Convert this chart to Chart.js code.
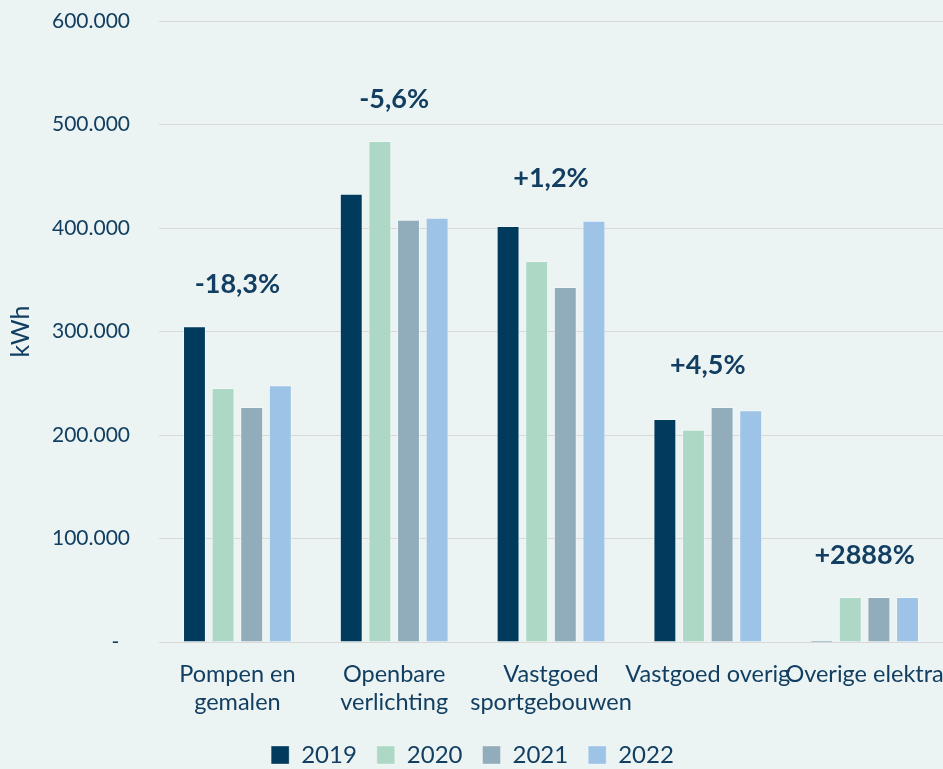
<!DOCTYPE html>
<html>
<head>
<meta charset="utf-8">
<script src="https://cdn.jsdelivr.net/npm/chart.js@4/dist/chart.umd.min.js"></script>
<style>
  html, body { margin: 0; padding: 0; background: #ebf3f3; overflow: hidden; }
  #wrap { width: 943px; height: 769px; }
</style>
</head>
<body>
<div id="wrap"><canvas id="chart"></canvas></div>
<script>
"use strict"

// data
const categories = [
  ["Pompen en", "gemalen"],
  ["Openbare", "verlichting"],
  ["Vastgoed", "sportgebouwen"],
  "Vastgoed overig",
  "Overige elektra",
]
const years = ["2019", "2020", "2021", "2022"]
const values2019 = [305000, 433000, 402000, 215500, 1460]
const values2020 = [245500, 484000, 368000, 205000, 43500]
const values2021 = [227000, 408000, 343000, 227000, 43500]
const values2022 = [248000, 410000, 407000, 224000, 43500]
const changeLabels = ["-18,3%", "-5,6%", "+1,2%", "+4,5%", "+2888%"]
const yTicks = [0, 100000, 200000, 300000, 400000, 500000, 600000]

const colors = ["#003a5c", "#aed8c6", "#91adbb", "#9dc3e6"]
const textColor = "#123f61"
const fontFamily = "Lato, 'Open Sans', sans-serif"

const canvas = document.getElementById("chart")

// background fill
const background = {
  id: "background",
  beforeDraw(chart) {
    const ctx = chart.ctx
    ctx.save()
    ctx.fillStyle = "#ebf3f3"
    ctx.fillRect(0, 0, chart.width, chart.height)
    ctx.restore()
  },
}

// percentage labels above each group
const changeText = {
  id: "changeText",
  afterDatasetsDraw(chart) {
    const ctx = chart.ctx
    const x = chart.scales.x
    const y = chart.scales.y
    ctx.save()
    ctx.font = "bold 27px " + fontFamily
    ctx.fillStyle = textColor
    ctx.textAlign = "center"
    ctx.textBaseline = "middle"
    for (let i = 0; i < categories.length; i++) {
      const top = Math.max(values2019[i], values2020[i], values2021[i], values2022[i])
      ctx.fillText(changeLabels[i], x.getPixelForValue(i), y.getPixelForValue(top) - 42)
    }
    ctx.restore()
  },
}

function formatTick(v) {
  if (v === 0) return "-\u00a0\u00a0"
  return String(v).replace(/\B(?=(\d{3})+(?!\d))/g, ".")
}

const series = [values2019, values2020, values2021, values2022]

new Chart(canvas, {
  type: "bar",
  data: {
    labels: categories,
    datasets: years.map((yr, i) => ({
      label: yr,
      data: series[i],
      backgroundColor: colors[i],
      borderColor: "rgba(255,255,255,0.35)",
      borderWidth: 1,
      categoryPercentage: 0.73,
      barPercentage: 0.8,
    })),
  },
  options: {
    responsive: true,
    maintainAspectRatio: false,
    animation: false,
    layout: {
      padding: { top: 0, left: 2, right: 0, bottom: -8 },
    },
    scales: {
      x: {
        grid: { display: false, drawTicks: false },
        border: { display: true, color: "#d9d9d9" },
        ticks: {
          color: textColor,
          font: { family: fontFamily, size: 23.5, lineHeight: 1.2 },
          maxRotation: 0,
          minRotation: 0,
          autoSkip: false,
          padding: 18,
        },
        afterFit(axis) {
          axis.paddingRight = 0
          axis.paddingLeft = 0
          axis.height = 81
        },
      },
      y: {
        min: 0,
        max: 600000,
        afterBuildTicks(axis) {
          axis.ticks = yTicks.map((v) => ({ value: v }))
        },
        grid: { color: "#d9d9d9", drawTicks: false },
        border: { display: false },
        ticks: {
          color: textColor,
          font: { family: fontFamily, size: 21 },
          padding: 29,
          callback: formatTick,
        },
        title: {
          display: true,
          text: "kWh",
          color: textColor,
          font: { family: fontFamily, size: 25 },
          padding: { top: 4, bottom: 14 },
        },
        afterFit(axis) {
          axis.width = 157
          axis.paddingTop = 21
          axis.paddingBottom = 0
        },
      },
    },
    plugins: {
      legend: {
        position: "bottom",
        labels: {
          color: textColor,
          font: { family: fontFamily, size: 24 },
          boxWidth: 18,
          boxHeight: 18,
          padding: 20,
        },
      },
      tooltip: { enabled: false },
    },
  },
  plugins: [background, changeText],
})
</script>
</body>
</html>
